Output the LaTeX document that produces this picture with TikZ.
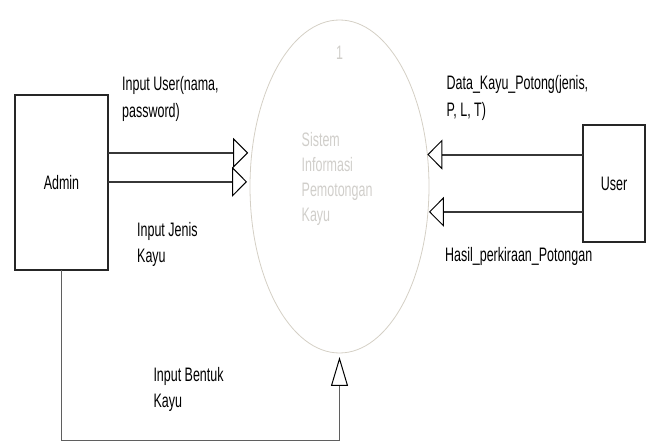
\documentclass[tikz,border=0pt]{standalone}
\usepackage{fontspec}
\setmainfont[FakeStretch=0.64]{Liberation Sans}
\usetikzlibrary{arrows.meta,shapes.geometric}
\definecolor{procline}{RGB}{212,207,197}
\definecolor{proctext}{RGB}{208,206,202}
\definecolor{shaft}{RGB}{55,55,55}
\definecolor{thinline}{RGB}{95,95,95}
\tikzset{
  ent/.style={draw=black!85, line width=1.2pt, fill=white, inner sep=0pt, outer sep=0pt},
  proc/.style={ellipse, draw=procline, line width=0.8pt, inner sep=0pt, outer sep=0pt, minimum width=179pt, minimum height=333pt},
  lbl/.style={anchor=base west, inner sep=0pt, align=left, font=\fontsize{19.5}{26.5}\selectfont},
  ptxt/.style={anchor=base west, inner sep=0pt, align=left, text=proctext, font=\fontsize{19.5}{25}\selectfont},
  flow/.style={draw=shaft, line width=2pt, -{Triangle[open, length=15pt, width=30pt, line width=1pt, color=black]}},
  flowup/.style={draw=thinline, line width=1pt, -{Triangle[open, length=29pt, width=17pt, line width=1pt, color=black]}}
}
\begin{document}
\begin{tikzpicture}[x=1pt,y=-1pt]
\useasboundingbox (0,0) rectangle (649,443);
\node[proc] (sys) at (339.5,186.5) {};
\node[ptxt, anchor=base] (num) at (339.5,60) {1};
% base anchor of a multi-line node = baseline of its last line
\node[ptxt] (systxt) at (301.5,221.5) {Sistem\\Informasi\\Pemotongan\\Kayu};
\node[ent, minimum width=93pt, minimum height=175pt, font=\fontsize{19.5}{22}\selectfont] (admin) at (61.5,182.5) {Admin};
\node[ent, minimum width=62pt, minimum height=117pt, font=\fontsize{19.5}{22}\selectfont] (user) at (614,183.5) {User};
% flows
\draw[flow, shorten >=3.7pt] (admin.east |- sys.159.68) -- (sys.159.68);
\draw[flow, shorten >=3pt] (admin.east |- sys.177.76) -- (sys.177.76);
\draw[flow] (user.west |- sys.20.32) -- (sys.20.32);
\draw[flow, shorten >=1pt] (user.west |- sys.-16.08) -- (sys.-16.08);
\draw[flowup, shorten >=4pt] (admin.south) -- ++(0,171) -| (sys.south);
% labels
\node[lbl] (l1) at (122,117.5) {Input User(nama,\\password)};
\node[lbl] (l2) at (137,263) {Input Jenis\\Kayu};
\node[lbl] (l3) at (446.5,116.5) {Data\_Kayu\_Potong(jenis,\\P, L, T)};
\node[lbl] (l4) at (445,262) {Hasil\_perkiraan\_Potongan};
\node[lbl] (l5) at (153.3,408) {Input Bentuk\\Kayu};
\end{tikzpicture}
\end{document}
